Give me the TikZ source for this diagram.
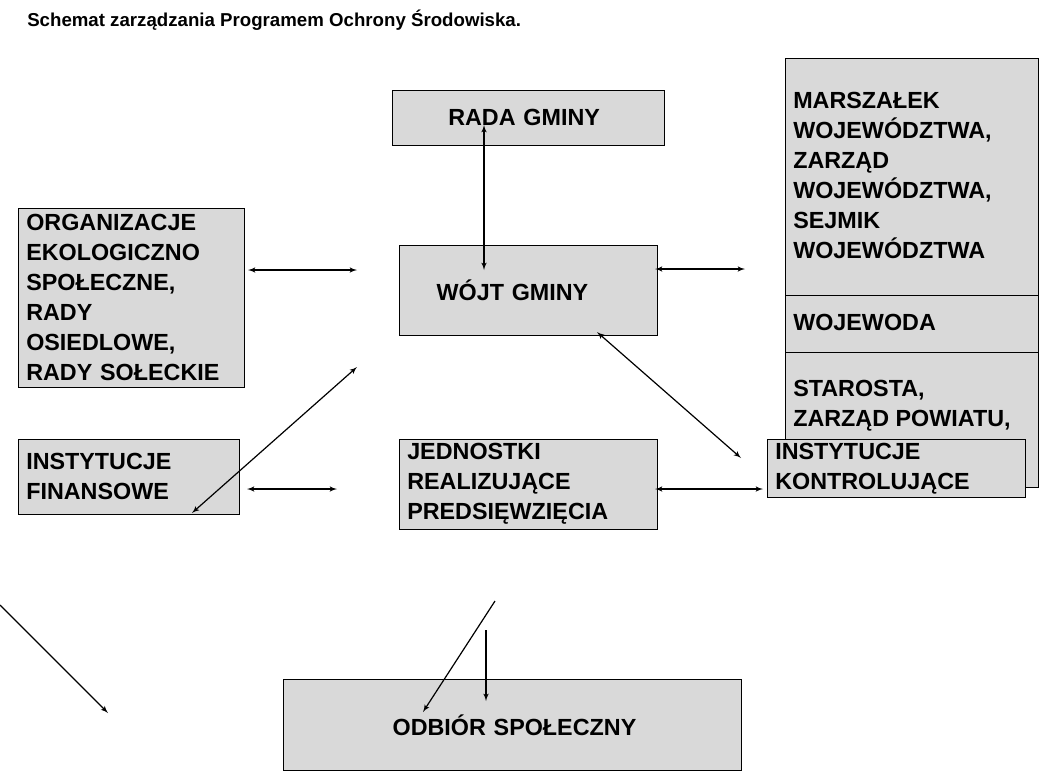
\documentclass[tikz,border=0pt]{standalone}
\usepackage{fontspec}
\setmainfont{Liberation Sans}
\usetikzlibrary{arrows,shapes}
\tikzset{
  box/.style={draw=black,fill=gray!30,anchor=north west,inner sep=0pt,
    text width=#1,align=left,font=\bfseries\fontsize{17.5}{22.5}\selectfont},
  txt/.style={anchor=north west,inner sep=0pt,align=left,
    font=\bfseries\fontsize{17.5}{22.5}\selectfont},
  link/.style={<->,>=latex',line width=0.9pt},
  onelink/.style={->,>=latex',line width=0.9pt},
}

\begin{document}
\begin{tikzpicture}[x=0.75pt,y=-0.75pt]
\useasboundingbox (0,0) rectangle (1046,775);
\node [anchor=base west,inner sep=0pt,font=\bfseries\fontsize{14}{16}\selectfont] (title) at (27,26) {Schemat zarządzania Programem Ochrony Środowiska.};
% boxes
\node [box=204pt,minimum width=204pt,minimum height=41.25pt] (rada) at (392,90) {\hspace*{42pt}RADA GMINY};
\node [box=169.5pt,minimum width=169.5pt,minimum height=134.25pt] (org) at (18,208) {\hspace*{6pt}ORGANIZACJE\\\hspace*{6pt}EKOLOGICZNO\\\hspace*{6pt}SPOŁECZNE,\\\hspace*{6pt}RADY\\\hspace*{6pt}OSIEDLOWE,\\\hspace*{6pt}RADY SOŁECKIE};
\node [box=193.5pt,minimum width=193.5pt,minimum height=67.5pt] (wojt) at (399,245) {\hspace*{28pt}WÓJT GMINY};
\node [box=165.75pt,minimum width=165.75pt,minimum height=56.25pt] (fin) at (18,439) {\hspace*{6pt}INSTYTUCJE\\\hspace*{6pt}FINANSOWE};
\node [box=193.5pt,minimum width=193.5pt,minimum height=67.5pt] (jedn) at (399,439) {\hspace*{6pt}JEDNOSTKI\\\hspace*{6pt}REALIZUJĄCE\\\hspace*{6pt}PREDSIĘWZIĘCIA};
\node [box=343.5pt,minimum width=343.5pt,minimum height=68.25pt] (odbior) at (283,679) {\hspace*{82pt}ODBIÓR SPOŁECZNY};
% right column
\draw [fill=gray!30] (785,58) rectangle (1038,487);
\draw (785,295) -- (1038,295) (785,352) -- (1038,352);
\node [txt] (marsz) at (793,92) {MARSZAŁEK\\WOJEWÓDZTWA,\\ZARZĄD\\WOJEWÓDZTWA,\\SEJMIK\\WOJEWÓDZTWA};
\node [txt] (wojewoda) at (793,314) {WOJEWODA};
\node [txt] (starosta) at (793,380) {STAROSTA,\\ZARZĄD POWIATU,};
\node [box=193.5pt,minimum width=193.5pt,minimum height=43.5pt] (kontr) at (767,439) {\hspace*{6pt}INSTYTUCJE\\\hspace*{6pt}KONTROLUJĄCE};
% connectors
\coordinate (a1) at (484,125); \coordinate (a2) at (484,270);
\coordinate (b1) at (248,270); \coordinate (b2) at (357,270);
\coordinate (c1) at (655,269); \coordinate (c2) at (745,269);
\coordinate (d1) at (357,367); \coordinate (d2) at (192,513);
\coordinate (e1) at (597,332); \coordinate (e2) at (741,458);
\coordinate (f1) at (247,489); \coordinate (f2) at (337,489);
\coordinate (g1) at (655,489); \coordinate (g2) at (763,489);
\coordinate (h1) at (0,605); \coordinate (h2) at (108,713);
\coordinate (i1) at (495,601); \coordinate (i2) at (423,712);
\coordinate (j1) at (486,630); \coordinate (j2) at (486,701);
\draw [link] (a1) -- (a2);
\draw [link] (b1) -- (b2);
\draw [link] (c1) -- (c2);
\draw [link] (d1) -- (d2);
\draw [link] (e1) -- (e2);
\draw [link] (f1) -- (f2);
\draw [link] (g1) -- (g2);
\draw [onelink] (h1) -- (h2);
\draw [onelink] (i1) -- (i2);
\draw [onelink] (j1) -- (j2);
\end{tikzpicture}
\end{document}
